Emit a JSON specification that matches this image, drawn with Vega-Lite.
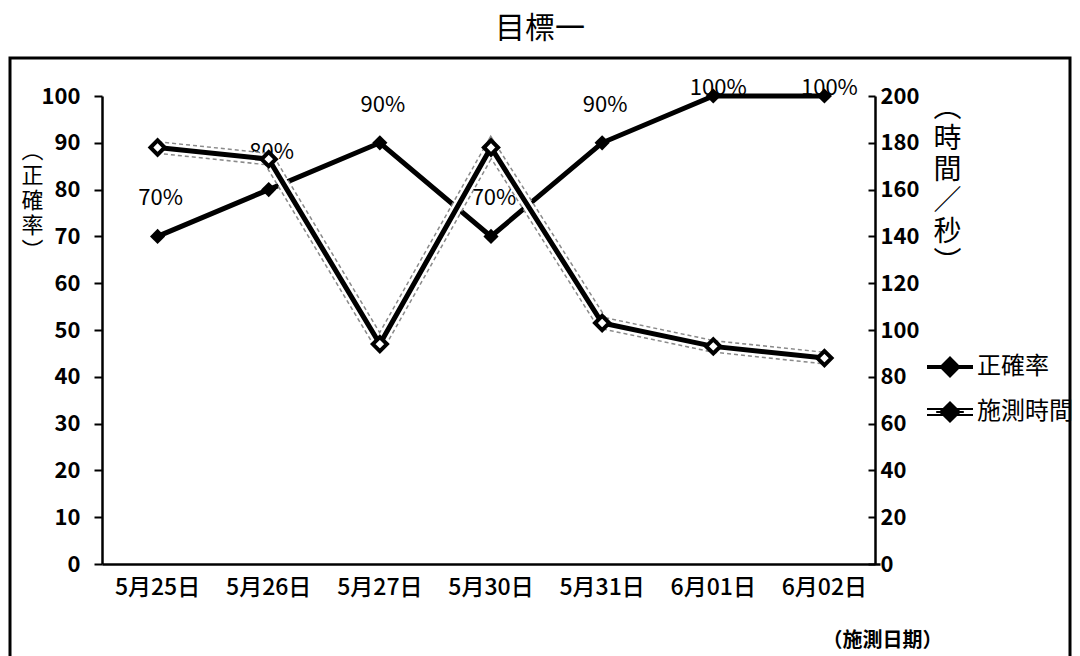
{
  "$schema": "https://vega.github.io/schema/vega-lite/v6.json",
  "width": 1060,
  "height": 600,
  "autosize": {"type": "none"},
  "padding": {"left": 10, "top": 58, "right": 10, "bottom": 0},
  "background": "white",
  "title": {"text": "目標一", "fontSize": 30, "font": "Noto Sans CJK TC", "fontWeight": "normal", "anchor": "middle", "offset": 14, "color": "black"},
  "config": {"view": {"stroke": "black", "strokeWidth": 3}, "font": "Noto Sans CJK TC"},
  "data": {"values": [
    {"date": "5月25日", "acc": 70, "label": "70%", "time": 178},
    {"date": "5月26日", "acc": 80, "label": "80%", "time": 173},
    {"date": "5月27日", "acc": 90, "label": "90%", "time": 94},
    {"date": "5月30日", "acc": 70, "label": "70%", "time": 178},
    {"date": "5月31日", "acc": 90, "label": "90%", "time": 103},
    {"date": "6月01日", "acc": 100, "label": "100%", "time": 93},
    {"date": "6月02日", "acc": 100, "label": "100%", "time": 88}
  ]},
  "layer": [
    {
      "layer": [
        {
          "mark": {"type": "line", "strokeWidth": 5},
          "encoding": {
            "x": {"field": "date", "type": "ordinal", "sort": null,
              "scale": {"type": "band", "range": [92, 870], "paddingInner": 0, "paddingOuter": 0},
              "axis": {"orient": "bottom", "offset": -94, "labelAngle": 0, "labelFontSize": 23, "labelFontWeight": 500, "labelColor": "black", "labelPadding": 12, "ticks": false, "domainColor": "black", "domainWidth": 2.5,
                "title": "（施測日期）", "titleFontSize": 20, "titleFontWeight": "bold", "titleColor": "black", "titleX": 872, "titleY": 76, "titleAlign": "center", "titleBaseline": "middle"}},
            "y": {"field": "acc", "type": "quantitative",
              "scale": {"domain": [0, 100], "range": [506, 38], "nice": false},
              "axis": {"orient": "left", "offset": -92, "values": [0, 10, 20, 30, 40, 50, 60, 70, 80, 90, 100], "grid": false,
                "labelFontSize": 22, "labelFontWeight": "bold", "labelColor": "black", "labelPadding": 14,
                "domainColor": "black", "domainWidth": 2.5, "tickColor": "black", "tickSize": 8, "tickWidth": 2,
                "title": ["︵", "正", "確", "率", "︶"], "titleAngle": 0, "titleX": -70, "titleY": 92, "titleAlign": "center", "titleBaseline": "middle",
                "titleFontSize": 22, "titleFontWeight": "normal", "titleLineHeight": 25, "titleColor": "black"}},
            "color": {"datum": "正確率", "type": "nominal",
              "scale": {"domain": ["正確率", "施測時間"], "range": ["black", "black"]},
              "legend": {"orient": "none", "legendX": 928, "legendY": 297, "title": null,
                "labelFontSize": 24, "labelColor": "black", "labelFont": "Noto Sans CJK TC",
                "symbolSize": 2116, "symbolType": "M-1,0L1,0M-0.35,0L0,-0.35L0.35,0L0,0.35Z", "symbolStrokeWidth": 4, "symbolFillColor": "black", "symbolStrokeColor": "black",
                "rowPadding": 14, "labelOffset": 15,
                "encode": {"symbols": {"update": {
                  "shape": {"signal": "datum.value === '正確率' ? 'M-1,0L1,0M-0.35,0L0,-0.35L0.35,0L0,0.35Z' : 'M-1,-0.13L1,-0.13M-1,0.13L1,0.13M-0.6,0L0.6,0M-0.42,0L0,-0.42L0.42,0L0,0.42Z'"},
                  "strokeWidth": {"signal": "datum.value === '正確率' ? 4 : 2"},
                  "fill": {"value": "black"}, "stroke": {"value": "black"}}}}}}
          }
        },
        {
          "mark": {"type": "point", "shape": "diamond", "filled": true, "size": 230, "color": "black", "opacity": 1},
          "encoding": {
            "x": {"field": "date", "type": "ordinal", "sort": null},
            "y": {"field": "acc", "type": "quantitative"}
          }
        },
        {
          "transform": [{"filter": "datum.acc < 100"}],
          "mark": {"type": "text", "dy": -38, "dx": 3, "fontSize": 22, "color": "black", "font": "Noto Sans CJK TC"},
          "encoding": {
            "x": {"field": "date", "type": "ordinal", "sort": null},
            "y": {"field": "acc", "type": "quantitative"},
            "text": {"field": "label"}
          }
        },
        {
          "transform": [{"filter": "datum.acc >= 100"}],
          "mark": {"type": "text", "dy": -8, "dx": 5, "fontSize": 22, "color": "black", "font": "Noto Sans CJK TC"},
          "encoding": {
            "x": {"field": "date", "type": "ordinal", "sort": null},
            "y": {"field": "acc", "type": "quantitative"},
            "text": {"field": "label"}
          }
        }
      ]
    },
    {
      "layer": [
        {
          "mark": {"type": "line", "strokeWidth": 13, "color": "#8a8a8a", "strokeDash": [4, 3]},
          "encoding": {
            "x": {"field": "date", "type": "ordinal", "sort": null},
            "y": {"field": "time", "type": "quantitative",
              "scale": {"domain": [0, 200], "range": [506, 38], "nice": false},
              "axis": {"orient": "right", "offset": -195, "values": [0, 20, 40, 60, 80, 100, 120, 140, 160, 180, 200], "grid": false,
                "labelFontSize": 22, "labelFontWeight": "bold", "labelColor": "black", "labelPadding": 12,
                "domainColor": "black", "domainWidth": 2.5, "tickColor": "black", "tickSize": -7, "tickWidth": 2,
                "title": ["︵", "時", "間", "／", "秒", "︶"], "titleAngle": 0, "titleX": 72, "titleY": 50, "titleAlign": "center", "titleBaseline": "middle",
                "titleFontSize": 28, "titleFontWeight": "normal", "titleLineHeight": 31, "titleColor": "black"}}
          }
        },
        {
          "mark": {"type": "line", "strokeWidth": 10, "color": "white"},
          "encoding": {
            "x": {"field": "date", "type": "ordinal", "sort": null},
            "y": {"field": "time", "type": "quantitative"}
          }
        },
        {
          "mark": {"type": "line", "strokeWidth": 5},
          "encoding": {
            "x": {"field": "date", "type": "ordinal", "sort": null},
            "y": {"field": "time", "type": "quantitative"},
            "color": {"datum": "施測時間", "type": "nominal"}
          }
        },
        {
          "mark": {"type": "point", "shape": "diamond", "filled": true, "size": 200, "fill": "white", "stroke": "black", "strokeWidth": 4, "opacity": 1},
          "encoding": {
            "x": {"field": "date", "type": "ordinal", "sort": null},
            "y": {"field": "time", "type": "quantitative"}
          }
        }
      ]
    }
  ],
  "resolve": {"scale": {"y": "independent"}}
}
